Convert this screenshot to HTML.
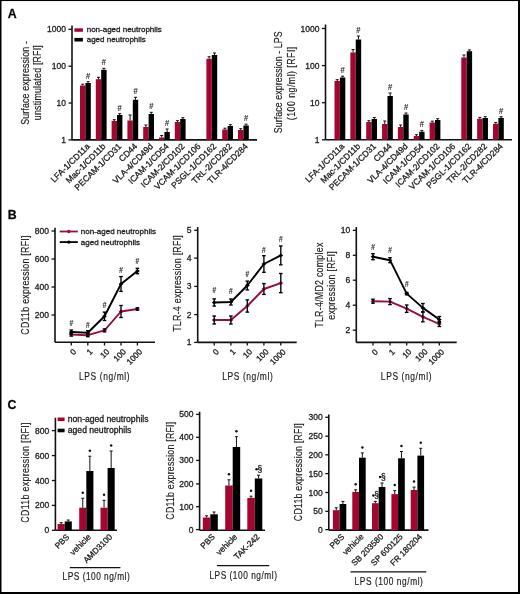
<!DOCTYPE html>
<html><head><meta charset="utf-8"><style>
html,body{margin:0;padding:0;background:#fff;}
body{width:520px;height:594px;overflow:hidden;}
svg{display:block;font-family:"Liberation Sans", sans-serif;will-change:transform;filter:blur(0.25px);}
text{stroke:#1c1c1c;stroke-width:0.3px;}
</style></head><body>
<svg width="520" height="594" viewBox="0 0 520 594">
<rect x="0" y="0" width="520" height="594" fill="#fff"/>
<rect x="0.00" y="0.00" width="520.00" height="1.05" fill="#000"/>
<rect x="0.00" y="0.00" width="1.50" height="594.00" fill="#000"/>
<rect x="518.00" y="0.00" width="2.00" height="594.00" fill="#000"/>
<rect x="0.00" y="592.00" width="520.00" height="2.00" fill="#000"/>
<text x="7.70" y="17.80" font-size="12.3" text-anchor="start" font-weight="bold" fill="#000">A</text>
<text x="7.70" y="219.30" font-size="12.3" text-anchor="start" font-weight="bold" fill="#000">B</text>
<text x="7.40" y="408.90" font-size="12.3" text-anchor="start" font-weight="bold" fill="#000">C</text>
<line x1="72.00" y1="25.40" x2="72.00" y2="139.90" stroke="#111" stroke-width="1.6"/>
<line x1="68.50" y1="139.90" x2="72.00" y2="139.90" stroke="#111" stroke-width="1.3"/>
<text x="65.90" y="142.96" font-size="8.5" text-anchor="end" font-weight="normal" fill="#1c1c1c">1</text>
<line x1="68.50" y1="103.04" x2="72.00" y2="103.04" stroke="#111" stroke-width="1.3"/>
<text x="65.90" y="106.10" font-size="8.5" text-anchor="end" font-weight="normal" fill="#1c1c1c">10</text>
<line x1="68.50" y1="66.18" x2="72.00" y2="66.18" stroke="#111" stroke-width="1.3"/>
<text x="65.90" y="69.24" font-size="8.5" text-anchor="end" font-weight="normal" fill="#1c1c1c">100</text>
<line x1="68.50" y1="29.32" x2="72.00" y2="29.32" stroke="#111" stroke-width="1.3"/>
<text x="65.90" y="32.38" font-size="8.5" text-anchor="end" font-weight="normal" fill="#1c1c1c">1000</text>
<line x1="72.00" y1="139.90" x2="257.00" y2="139.90" stroke="#111" stroke-width="1.6"/>
<rect x="80.00" y="85.50" width="5.40" height="54.40" fill="#a3072f"/>
<line x1="82.70" y1="84.20" x2="82.70" y2="85.50" stroke="#111" stroke-width="1.0"/>
<line x1="81.20" y1="84.20" x2="84.20" y2="84.20" stroke="#111" stroke-width="1.0"/>
<rect x="85.40" y="83.00" width="5.40" height="56.90" fill="#000"/>
<line x1="88.10" y1="81.70" x2="88.10" y2="83.00" stroke="#111" stroke-width="1.0"/>
<line x1="86.60" y1="81.70" x2="89.60" y2="81.70" stroke="#111" stroke-width="1.0"/>
<text x="0" y="0" font-size="9.4" text-anchor="middle" fill="#2a2a2a" style="stroke-width:0.2px;stroke:#2a2a2a" transform="translate(88.10 78.50) scale(0.8 1)">#</text>
<rect x="95.80" y="79.20" width="5.40" height="60.70" fill="#a3072f"/>
<line x1="98.50" y1="77.30" x2="98.50" y2="79.20" stroke="#111" stroke-width="1.0"/>
<line x1="97.00" y1="77.30" x2="100.00" y2="77.30" stroke="#111" stroke-width="1.0"/>
<rect x="101.20" y="69.80" width="5.40" height="70.10" fill="#000"/>
<line x1="103.90" y1="68.30" x2="103.90" y2="69.80" stroke="#111" stroke-width="1.0"/>
<line x1="102.40" y1="68.30" x2="105.40" y2="68.30" stroke="#111" stroke-width="1.0"/>
<text x="0" y="0" font-size="9.4" text-anchor="middle" fill="#2a2a2a" style="stroke-width:0.2px;stroke:#2a2a2a" transform="translate(103.90 65.10) scale(0.8 1)">#</text>
<rect x="111.60" y="121.00" width="5.40" height="18.90" fill="#a3072f"/>
<line x1="114.30" y1="119.70" x2="114.30" y2="121.00" stroke="#111" stroke-width="1.0"/>
<line x1="112.80" y1="119.70" x2="115.80" y2="119.70" stroke="#111" stroke-width="1.0"/>
<rect x="117.00" y="115.00" width="5.40" height="24.90" fill="#000"/>
<line x1="119.70" y1="113.70" x2="119.70" y2="115.00" stroke="#111" stroke-width="1.0"/>
<line x1="118.20" y1="113.70" x2="121.20" y2="113.70" stroke="#111" stroke-width="1.0"/>
<text x="0" y="0" font-size="9.4" text-anchor="middle" fill="#2a2a2a" style="stroke-width:0.2px;stroke:#2a2a2a" transform="translate(119.70 110.50) scale(0.8 1)">#</text>
<rect x="127.40" y="120.50" width="5.40" height="19.40" fill="#a3072f"/>
<line x1="130.10" y1="115.00" x2="130.10" y2="120.50" stroke="#111" stroke-width="1.0"/>
<line x1="128.60" y1="115.00" x2="131.60" y2="115.00" stroke="#111" stroke-width="1.0"/>
<rect x="132.80" y="99.80" width="5.40" height="40.10" fill="#000"/>
<line x1="135.50" y1="97.30" x2="135.50" y2="99.80" stroke="#111" stroke-width="1.0"/>
<line x1="134.00" y1="97.30" x2="137.00" y2="97.30" stroke="#111" stroke-width="1.0"/>
<text x="0" y="0" font-size="9.4" text-anchor="middle" fill="#2a2a2a" style="stroke-width:0.2px;stroke:#2a2a2a" transform="translate(135.50 94.10) scale(0.8 1)">#</text>
<rect x="143.20" y="127.00" width="5.40" height="12.90" fill="#a3072f"/>
<line x1="145.90" y1="125.00" x2="145.90" y2="127.00" stroke="#111" stroke-width="1.0"/>
<line x1="144.40" y1="125.00" x2="147.40" y2="125.00" stroke="#111" stroke-width="1.0"/>
<rect x="148.60" y="114.00" width="5.40" height="25.90" fill="#000"/>
<line x1="151.30" y1="112.30" x2="151.30" y2="114.00" stroke="#111" stroke-width="1.0"/>
<line x1="149.80" y1="112.30" x2="152.80" y2="112.30" stroke="#111" stroke-width="1.0"/>
<text x="0" y="0" font-size="9.4" text-anchor="middle" fill="#2a2a2a" style="stroke-width:0.2px;stroke:#2a2a2a" transform="translate(151.30 109.10) scale(0.8 1)">#</text>
<rect x="159.00" y="137.50" width="5.40" height="2.40" fill="#a3072f"/>
<line x1="161.70" y1="135.50" x2="161.70" y2="137.50" stroke="#111" stroke-width="1.0"/>
<line x1="160.20" y1="135.50" x2="163.20" y2="135.50" stroke="#111" stroke-width="1.0"/>
<rect x="164.40" y="132.00" width="5.40" height="7.90" fill="#000"/>
<line x1="167.10" y1="129.00" x2="167.10" y2="132.00" stroke="#111" stroke-width="1.0"/>
<line x1="165.60" y1="129.00" x2="168.60" y2="129.00" stroke="#111" stroke-width="1.0"/>
<text x="0" y="0" font-size="9.4" text-anchor="middle" fill="#2a2a2a" style="stroke-width:0.2px;stroke:#2a2a2a" transform="translate(167.10 125.80) scale(0.8 1)">#</text>
<rect x="174.80" y="122.00" width="5.40" height="17.90" fill="#a3072f"/>
<line x1="177.50" y1="120.70" x2="177.50" y2="122.00" stroke="#111" stroke-width="1.0"/>
<line x1="176.00" y1="120.70" x2="179.00" y2="120.70" stroke="#111" stroke-width="1.0"/>
<rect x="180.20" y="119.00" width="5.40" height="20.90" fill="#000"/>
<line x1="182.90" y1="117.70" x2="182.90" y2="119.00" stroke="#111" stroke-width="1.0"/>
<line x1="181.40" y1="117.70" x2="184.40" y2="117.70" stroke="#111" stroke-width="1.0"/>
<rect x="206.40" y="58.75" width="5.40" height="81.15" fill="#a3072f"/>
<line x1="209.10" y1="56.75" x2="209.10" y2="58.75" stroke="#111" stroke-width="1.0"/>
<line x1="207.60" y1="56.75" x2="210.60" y2="56.75" stroke="#111" stroke-width="1.0"/>
<rect x="211.80" y="55.00" width="5.40" height="84.90" fill="#000"/>
<line x1="214.50" y1="53.00" x2="214.50" y2="55.00" stroke="#111" stroke-width="1.0"/>
<line x1="213.00" y1="53.00" x2="216.00" y2="53.00" stroke="#111" stroke-width="1.0"/>
<rect x="222.20" y="129.50" width="5.40" height="10.40" fill="#a3072f"/>
<line x1="224.90" y1="128.20" x2="224.90" y2="129.50" stroke="#111" stroke-width="1.0"/>
<line x1="223.40" y1="128.20" x2="226.40" y2="128.20" stroke="#111" stroke-width="1.0"/>
<rect x="227.60" y="126.00" width="5.40" height="13.90" fill="#000"/>
<line x1="230.30" y1="124.70" x2="230.30" y2="126.00" stroke="#111" stroke-width="1.0"/>
<line x1="228.80" y1="124.70" x2="231.80" y2="124.70" stroke="#111" stroke-width="1.0"/>
<rect x="238.00" y="130.00" width="5.40" height="9.90" fill="#a3072f"/>
<line x1="240.70" y1="128.70" x2="240.70" y2="130.00" stroke="#111" stroke-width="1.0"/>
<line x1="239.20" y1="128.70" x2="242.20" y2="128.70" stroke="#111" stroke-width="1.0"/>
<rect x="243.40" y="125.50" width="5.40" height="14.40" fill="#000"/>
<line x1="246.10" y1="124.20" x2="246.10" y2="125.50" stroke="#111" stroke-width="1.0"/>
<line x1="244.60" y1="124.20" x2="247.60" y2="124.20" stroke="#111" stroke-width="1.0"/>
<text x="0" y="0" font-size="9.4" text-anchor="middle" fill="#2a2a2a" style="stroke-width:0.2px;stroke:#2a2a2a" transform="translate(246.10 121.00) scale(0.8 1)">#</text>
<text x="90.40" y="146.90" font-size="8.55" text-anchor="end" font-weight="normal" fill="#1c1c1c" transform="rotate(-45 90.40 146.90)">LFA-1/CD11a</text>
<text x="106.20" y="146.90" font-size="8.55" text-anchor="end" font-weight="normal" fill="#1c1c1c" transform="rotate(-45 106.20 146.90)">Mac-1/CD11b</text>
<text x="122.00" y="146.90" font-size="8.55" text-anchor="end" font-weight="normal" fill="#1c1c1c" transform="rotate(-45 122.00 146.90)">PECAM-1/CD31</text>
<text x="137.80" y="146.90" font-size="8.55" text-anchor="end" font-weight="normal" fill="#1c1c1c" transform="rotate(-45 137.80 146.90)">CD44</text>
<text x="153.60" y="146.90" font-size="8.55" text-anchor="end" font-weight="normal" fill="#1c1c1c" transform="rotate(-45 153.60 146.90)">VLA-4/CD49d</text>
<text x="169.40" y="146.90" font-size="8.55" text-anchor="end" font-weight="normal" fill="#1c1c1c" transform="rotate(-45 169.40 146.90)">ICAM-1/CD54</text>
<text x="185.20" y="146.90" font-size="8.55" text-anchor="end" font-weight="normal" fill="#1c1c1c" transform="rotate(-45 185.20 146.90)">ICAM-2/CD102</text>
<text x="201.00" y="146.90" font-size="8.55" text-anchor="end" font-weight="normal" fill="#1c1c1c" transform="rotate(-45 201.00 146.90)">VCAM-1/CD106</text>
<text x="216.80" y="146.90" font-size="8.55" text-anchor="end" font-weight="normal" fill="#1c1c1c" transform="rotate(-45 216.80 146.90)">PSGL-1/CD162</text>
<text x="232.60" y="146.90" font-size="8.55" text-anchor="end" font-weight="normal" fill="#1c1c1c" transform="rotate(-45 232.60 146.90)">TRL-2/CD282</text>
<text x="248.40" y="146.90" font-size="8.55" text-anchor="end" font-weight="normal" fill="#1c1c1c" transform="rotate(-45 248.40 146.90)">TLR-4/CD284</text>
<line x1="325.50" y1="24.50" x2="325.50" y2="139.80" stroke="#111" stroke-width="1.6"/>
<line x1="322.00" y1="139.80" x2="325.50" y2="139.80" stroke="#111" stroke-width="1.3"/>
<text x="319.40" y="142.86" font-size="8.5" text-anchor="end" font-weight="normal" fill="#1c1c1c">1</text>
<line x1="322.00" y1="102.70" x2="325.50" y2="102.70" stroke="#111" stroke-width="1.3"/>
<text x="319.40" y="105.76" font-size="8.5" text-anchor="end" font-weight="normal" fill="#1c1c1c">10</text>
<line x1="322.00" y1="65.60" x2="325.50" y2="65.60" stroke="#111" stroke-width="1.3"/>
<text x="319.40" y="68.66" font-size="8.5" text-anchor="end" font-weight="normal" fill="#1c1c1c">100</text>
<line x1="322.00" y1="28.50" x2="325.50" y2="28.50" stroke="#111" stroke-width="1.3"/>
<text x="319.40" y="31.56" font-size="8.5" text-anchor="end" font-weight="normal" fill="#1c1c1c">1000</text>
<line x1="325.50" y1="139.80" x2="512.00" y2="139.80" stroke="#111" stroke-width="1.6"/>
<rect x="334.50" y="81.00" width="5.40" height="58.80" fill="#a3072f"/>
<line x1="337.20" y1="79.70" x2="337.20" y2="81.00" stroke="#111" stroke-width="1.0"/>
<line x1="335.70" y1="79.70" x2="338.70" y2="79.70" stroke="#111" stroke-width="1.0"/>
<rect x="339.90" y="77.50" width="5.40" height="62.30" fill="#000"/>
<line x1="342.60" y1="76.20" x2="342.60" y2="77.50" stroke="#111" stroke-width="1.0"/>
<line x1="341.10" y1="76.20" x2="344.10" y2="76.20" stroke="#111" stroke-width="1.0"/>
<text x="0" y="0" font-size="9.4" text-anchor="middle" fill="#2a2a2a" style="stroke-width:0.2px;stroke:#2a2a2a" transform="translate(342.60 73.00) scale(0.8 1)">#</text>
<rect x="350.35" y="52.50" width="5.40" height="87.30" fill="#a3072f"/>
<line x1="353.05" y1="49.50" x2="353.05" y2="52.50" stroke="#111" stroke-width="1.0"/>
<line x1="351.55" y1="49.50" x2="354.55" y2="49.50" stroke="#111" stroke-width="1.0"/>
<rect x="355.75" y="39.50" width="5.40" height="100.30" fill="#000"/>
<line x1="358.45" y1="36.00" x2="358.45" y2="39.50" stroke="#111" stroke-width="1.0"/>
<line x1="356.95" y1="36.00" x2="359.95" y2="36.00" stroke="#111" stroke-width="1.0"/>
<text x="0" y="0" font-size="9.4" text-anchor="middle" fill="#2a2a2a" style="stroke-width:0.2px;stroke:#2a2a2a" transform="translate(358.45 32.80) scale(0.8 1)">#</text>
<rect x="366.20" y="122.00" width="5.40" height="17.80" fill="#a3072f"/>
<line x1="368.90" y1="120.70" x2="368.90" y2="122.00" stroke="#111" stroke-width="1.0"/>
<line x1="367.40" y1="120.70" x2="370.40" y2="120.70" stroke="#111" stroke-width="1.0"/>
<rect x="371.60" y="119.00" width="5.40" height="20.80" fill="#000"/>
<line x1="374.30" y1="117.50" x2="374.30" y2="119.00" stroke="#111" stroke-width="1.0"/>
<line x1="372.80" y1="117.50" x2="375.80" y2="117.50" stroke="#111" stroke-width="1.0"/>
<rect x="382.05" y="124.00" width="5.40" height="15.80" fill="#a3072f"/>
<line x1="384.75" y1="121.00" x2="384.75" y2="124.00" stroke="#111" stroke-width="1.0"/>
<line x1="383.25" y1="121.00" x2="386.25" y2="121.00" stroke="#111" stroke-width="1.0"/>
<rect x="387.45" y="96.00" width="5.40" height="43.80" fill="#000"/>
<line x1="390.15" y1="93.00" x2="390.15" y2="96.00" stroke="#111" stroke-width="1.0"/>
<line x1="388.65" y1="93.00" x2="391.65" y2="93.00" stroke="#111" stroke-width="1.0"/>
<text x="0" y="0" font-size="9.4" text-anchor="middle" fill="#2a2a2a" style="stroke-width:0.2px;stroke:#2a2a2a" transform="translate(390.15 89.80) scale(0.8 1)">#</text>
<rect x="397.90" y="127.00" width="5.40" height="12.80" fill="#a3072f"/>
<line x1="400.60" y1="125.00" x2="400.60" y2="127.00" stroke="#111" stroke-width="1.0"/>
<line x1="399.10" y1="125.00" x2="402.10" y2="125.00" stroke="#111" stroke-width="1.0"/>
<rect x="403.30" y="114.50" width="5.40" height="25.30" fill="#000"/>
<line x1="406.00" y1="113.00" x2="406.00" y2="114.50" stroke="#111" stroke-width="1.0"/>
<line x1="404.50" y1="113.00" x2="407.50" y2="113.00" stroke="#111" stroke-width="1.0"/>
<text x="0" y="0" font-size="9.4" text-anchor="middle" fill="#2a2a2a" style="stroke-width:0.2px;stroke:#2a2a2a" transform="translate(406.00 109.80) scale(0.8 1)">#</text>
<rect x="413.75" y="136.00" width="5.40" height="3.80" fill="#a3072f"/>
<line x1="416.45" y1="134.70" x2="416.45" y2="136.00" stroke="#111" stroke-width="1.0"/>
<line x1="414.95" y1="134.70" x2="417.95" y2="134.70" stroke="#111" stroke-width="1.0"/>
<rect x="419.15" y="131.75" width="5.40" height="8.05" fill="#000"/>
<line x1="421.85" y1="130.45" x2="421.85" y2="131.75" stroke="#111" stroke-width="1.0"/>
<line x1="420.35" y1="130.45" x2="423.35" y2="130.45" stroke="#111" stroke-width="1.0"/>
<text x="0" y="0" font-size="9.4" text-anchor="middle" fill="#2a2a2a" style="stroke-width:0.2px;stroke:#2a2a2a" transform="translate(421.85 127.25) scale(0.8 1)">#</text>
<rect x="429.60" y="122.50" width="5.40" height="17.30" fill="#a3072f"/>
<line x1="432.30" y1="121.20" x2="432.30" y2="122.50" stroke="#111" stroke-width="1.0"/>
<line x1="430.80" y1="121.20" x2="433.80" y2="121.20" stroke="#111" stroke-width="1.0"/>
<rect x="435.00" y="120.00" width="5.40" height="19.80" fill="#000"/>
<line x1="437.70" y1="118.70" x2="437.70" y2="120.00" stroke="#111" stroke-width="1.0"/>
<line x1="436.20" y1="118.70" x2="439.20" y2="118.70" stroke="#111" stroke-width="1.0"/>
<rect x="461.30" y="57.50" width="5.40" height="82.30" fill="#a3072f"/>
<line x1="464.00" y1="55.00" x2="464.00" y2="57.50" stroke="#111" stroke-width="1.0"/>
<line x1="462.50" y1="55.00" x2="465.50" y2="55.00" stroke="#111" stroke-width="1.0"/>
<rect x="466.70" y="51.25" width="5.40" height="88.55" fill="#000"/>
<line x1="469.40" y1="49.95" x2="469.40" y2="51.25" stroke="#111" stroke-width="1.0"/>
<line x1="467.90" y1="49.95" x2="470.90" y2="49.95" stroke="#111" stroke-width="1.0"/>
<rect x="477.15" y="118.75" width="5.40" height="21.05" fill="#a3072f"/>
<line x1="479.85" y1="117.45" x2="479.85" y2="118.75" stroke="#111" stroke-width="1.0"/>
<line x1="478.35" y1="117.45" x2="481.35" y2="117.45" stroke="#111" stroke-width="1.0"/>
<rect x="482.55" y="118.00" width="5.40" height="21.80" fill="#000"/>
<line x1="485.25" y1="116.70" x2="485.25" y2="118.00" stroke="#111" stroke-width="1.0"/>
<line x1="483.75" y1="116.70" x2="486.75" y2="116.70" stroke="#111" stroke-width="1.0"/>
<rect x="493.00" y="123.75" width="5.40" height="16.05" fill="#a3072f"/>
<line x1="495.70" y1="122.45" x2="495.70" y2="123.75" stroke="#111" stroke-width="1.0"/>
<line x1="494.20" y1="122.45" x2="497.20" y2="122.45" stroke="#111" stroke-width="1.0"/>
<rect x="498.40" y="118.00" width="5.40" height="21.80" fill="#000"/>
<line x1="501.10" y1="116.70" x2="501.10" y2="118.00" stroke="#111" stroke-width="1.0"/>
<line x1="499.60" y1="116.70" x2="502.60" y2="116.70" stroke="#111" stroke-width="1.0"/>
<text x="0" y="0" font-size="9.4" text-anchor="middle" fill="#2a2a2a" style="stroke-width:0.2px;stroke:#2a2a2a" transform="translate(501.10 113.50) scale(0.8 1)">#</text>
<text x="344.90" y="146.80" font-size="8.55" text-anchor="end" font-weight="normal" fill="#1c1c1c" transform="rotate(-45 344.90 146.80)">LFA-1/CD11a</text>
<text x="360.75" y="146.80" font-size="8.55" text-anchor="end" font-weight="normal" fill="#1c1c1c" transform="rotate(-45 360.75 146.80)">Mac-1/CD11b</text>
<text x="376.60" y="146.80" font-size="8.55" text-anchor="end" font-weight="normal" fill="#1c1c1c" transform="rotate(-45 376.60 146.80)">PECAM-1/CD31</text>
<text x="392.45" y="146.80" font-size="8.55" text-anchor="end" font-weight="normal" fill="#1c1c1c" transform="rotate(-45 392.45 146.80)">CD44</text>
<text x="408.30" y="146.80" font-size="8.55" text-anchor="end" font-weight="normal" fill="#1c1c1c" transform="rotate(-45 408.30 146.80)">VLA-4/CD49d</text>
<text x="424.15" y="146.80" font-size="8.55" text-anchor="end" font-weight="normal" fill="#1c1c1c" transform="rotate(-45 424.15 146.80)">ICAM-1/CD54</text>
<text x="440.00" y="146.80" font-size="8.55" text-anchor="end" font-weight="normal" fill="#1c1c1c" transform="rotate(-45 440.00 146.80)">ICAM-2/CD102</text>
<text x="455.85" y="146.80" font-size="8.55" text-anchor="end" font-weight="normal" fill="#1c1c1c" transform="rotate(-45 455.85 146.80)">VCAM-1/CD106</text>
<text x="471.70" y="146.80" font-size="8.55" text-anchor="end" font-weight="normal" fill="#1c1c1c" transform="rotate(-45 471.70 146.80)">PSGL-1/CD162</text>
<text x="487.55" y="146.80" font-size="8.55" text-anchor="end" font-weight="normal" fill="#1c1c1c" transform="rotate(-45 487.55 146.80)">TRL-2/CD282</text>
<text x="503.40" y="146.80" font-size="8.55" text-anchor="end" font-weight="normal" fill="#1c1c1c" transform="rotate(-45 503.40 146.80)">TLR-4/CD284</text>
<rect x="74.40" y="28.30" width="8.50" height="3.50" fill="#a3072f"/>
<rect x="74.40" y="37.90" width="8.50" height="3.60" fill="#000"/>
<text x="86.70" y="32.10" font-size="8" text-anchor="start" font-weight="normal" fill="#1c1c1c">non-aged neutrophils</text>
<text x="86.70" y="41.70" font-size="8" text-anchor="start" font-weight="normal" fill="#1c1c1c">aged neutrophils</text>
<line x1="55.00" y1="227.80" x2="55.00" y2="342.30" stroke="#111" stroke-width="1.6"/>
<line x1="51.50" y1="231.00" x2="55.00" y2="231.00" stroke="#111" stroke-width="1.3"/>
<text x="48.90" y="234.06" font-size="8.5" text-anchor="end" font-weight="normal" fill="#1c1c1c">800</text>
<line x1="51.50" y1="259.00" x2="55.00" y2="259.00" stroke="#111" stroke-width="1.3"/>
<text x="48.90" y="262.06" font-size="8.5" text-anchor="end" font-weight="normal" fill="#1c1c1c">600</text>
<line x1="51.50" y1="287.00" x2="55.00" y2="287.00" stroke="#111" stroke-width="1.3"/>
<text x="48.90" y="290.06" font-size="8.5" text-anchor="end" font-weight="normal" fill="#1c1c1c">400</text>
<line x1="51.50" y1="315.00" x2="55.00" y2="315.00" stroke="#111" stroke-width="1.3"/>
<text x="48.90" y="318.06" font-size="8.5" text-anchor="end" font-weight="normal" fill="#1c1c1c">200</text>
<line x1="55.00" y1="342.30" x2="155.00" y2="342.30" stroke="#111" stroke-width="1.6"/>
<line x1="71.30" y1="342.30" x2="71.30" y2="345.50" stroke="#111" stroke-width="1.3"/>
<text x="76.70" y="352.30" font-size="8.2" text-anchor="end" font-weight="normal" fill="#1c1c1c" transform="rotate(-45 76.70 352.30)">0</text>
<line x1="87.80" y1="342.30" x2="87.80" y2="345.50" stroke="#111" stroke-width="1.3"/>
<text x="93.20" y="352.30" font-size="8.2" text-anchor="end" font-weight="normal" fill="#1c1c1c" transform="rotate(-45 93.20 352.30)">1</text>
<line x1="104.50" y1="342.30" x2="104.50" y2="345.50" stroke="#111" stroke-width="1.3"/>
<text x="109.90" y="352.30" font-size="8.2" text-anchor="end" font-weight="normal" fill="#1c1c1c" transform="rotate(-45 109.90 352.30)">10</text>
<line x1="121.00" y1="342.30" x2="121.00" y2="345.50" stroke="#111" stroke-width="1.3"/>
<text x="126.40" y="352.30" font-size="8.2" text-anchor="end" font-weight="normal" fill="#1c1c1c" transform="rotate(-45 126.40 352.30)">100</text>
<line x1="137.40" y1="342.30" x2="137.40" y2="345.50" stroke="#111" stroke-width="1.3"/>
<text x="142.80" y="352.30" font-size="8.2" text-anchor="end" font-weight="normal" fill="#1c1c1c" transform="rotate(-45 142.80 352.30)">1000</text>
<polyline points="71.30,334.60 87.80,335.20 104.50,330.40 121.00,311.50 137.40,309.00" fill="none" stroke="#980e3a" stroke-width="1.9" stroke-linejoin="round"/>
<polygon points="68.90,334.60 71.30,332.70 73.70,334.60 71.30,336.50" fill="#980e3a"/>
<line x1="71.30" y1="333.10" x2="71.30" y2="336.10" stroke="#000" stroke-width="1.35"/>
<line x1="69.50" y1="333.10" x2="73.10" y2="333.10" stroke="#000" stroke-width="1.35"/>
<line x1="69.50" y1="336.10" x2="73.10" y2="336.10" stroke="#000" stroke-width="1.35"/>
<polygon points="85.40,335.20 87.80,333.30 90.20,335.20 87.80,337.10" fill="#980e3a"/>
<line x1="87.80" y1="333.70" x2="87.80" y2="336.70" stroke="#000" stroke-width="1.35"/>
<line x1="86.00" y1="333.70" x2="89.60" y2="333.70" stroke="#000" stroke-width="1.35"/>
<line x1="86.00" y1="336.70" x2="89.60" y2="336.70" stroke="#000" stroke-width="1.35"/>
<polygon points="102.10,330.40 104.50,328.50 106.90,330.40 104.50,332.30" fill="#980e3a"/>
<line x1="104.50" y1="328.90" x2="104.50" y2="331.90" stroke="#000" stroke-width="1.35"/>
<line x1="102.70" y1="328.90" x2="106.30" y2="328.90" stroke="#000" stroke-width="1.35"/>
<line x1="102.70" y1="331.90" x2="106.30" y2="331.90" stroke="#000" stroke-width="1.35"/>
<polygon points="118.60,311.50 121.00,309.60 123.40,311.50 121.00,313.40" fill="#980e3a"/>
<line x1="121.00" y1="305.50" x2="121.00" y2="317.50" stroke="#000" stroke-width="1.35"/>
<line x1="119.20" y1="305.50" x2="122.80" y2="305.50" stroke="#000" stroke-width="1.35"/>
<line x1="119.20" y1="317.50" x2="122.80" y2="317.50" stroke="#000" stroke-width="1.35"/>
<polygon points="135.00,309.00 137.40,307.10 139.80,309.00 137.40,310.90" fill="#980e3a"/>
<line x1="137.40" y1="307.80" x2="137.40" y2="310.20" stroke="#000" stroke-width="1.35"/>
<line x1="135.60" y1="307.80" x2="139.20" y2="307.80" stroke="#000" stroke-width="1.35"/>
<line x1="135.60" y1="310.20" x2="139.20" y2="310.20" stroke="#000" stroke-width="1.35"/>
<polyline points="71.30,332.00 87.80,332.70 104.50,316.30 121.00,284.00 137.40,271.00" fill="none" stroke="#000" stroke-width="1.9" stroke-linejoin="round"/>
<polygon points="68.90,332.00 71.30,330.10 73.70,332.00 71.30,333.90" fill="#000"/>
<line x1="71.30" y1="330.00" x2="71.30" y2="334.00" stroke="#000" stroke-width="1.35"/>
<line x1="69.50" y1="330.00" x2="73.10" y2="330.00" stroke="#000" stroke-width="1.35"/>
<line x1="69.50" y1="334.00" x2="73.10" y2="334.00" stroke="#000" stroke-width="1.35"/>
<polygon points="85.40,332.70 87.80,330.80 90.20,332.70 87.80,334.60" fill="#000"/>
<line x1="87.80" y1="330.70" x2="87.80" y2="334.70" stroke="#000" stroke-width="1.35"/>
<line x1="86.00" y1="330.70" x2="89.60" y2="330.70" stroke="#000" stroke-width="1.35"/>
<line x1="86.00" y1="334.70" x2="89.60" y2="334.70" stroke="#000" stroke-width="1.35"/>
<polygon points="102.10,316.30 104.50,314.40 106.90,316.30 104.50,318.20" fill="#000"/>
<line x1="104.50" y1="312.10" x2="104.50" y2="320.50" stroke="#000" stroke-width="1.35"/>
<line x1="102.70" y1="312.10" x2="106.30" y2="312.10" stroke="#000" stroke-width="1.35"/>
<line x1="102.70" y1="320.50" x2="106.30" y2="320.50" stroke="#000" stroke-width="1.35"/>
<polygon points="118.60,284.00 121.00,282.10 123.40,284.00 121.00,285.90" fill="#000"/>
<line x1="121.00" y1="276.60" x2="121.00" y2="291.40" stroke="#000" stroke-width="1.35"/>
<line x1="119.20" y1="276.60" x2="122.80" y2="276.60" stroke="#000" stroke-width="1.35"/>
<line x1="119.20" y1="291.40" x2="122.80" y2="291.40" stroke="#000" stroke-width="1.35"/>
<polygon points="135.00,271.00 137.40,269.10 139.80,271.00 137.40,272.90" fill="#000"/>
<line x1="137.40" y1="268.30" x2="137.40" y2="273.70" stroke="#000" stroke-width="1.35"/>
<line x1="135.60" y1="268.30" x2="139.20" y2="268.30" stroke="#000" stroke-width="1.35"/>
<line x1="135.60" y1="273.70" x2="139.20" y2="273.70" stroke="#000" stroke-width="1.35"/>
<text x="0" y="0" font-size="8.2" text-anchor="middle" fill="#2a2a2a" style="stroke-width:0.2px;stroke:#2a2a2a" transform="translate(71.30 326.30) scale(0.8 1)">#</text>
<text x="0" y="0" font-size="8.2" text-anchor="middle" fill="#2a2a2a" style="stroke-width:0.2px;stroke:#2a2a2a" transform="translate(87.80 327.90) scale(0.8 1)">#</text>
<text x="0" y="0" font-size="8.2" text-anchor="middle" fill="#2a2a2a" style="stroke-width:0.2px;stroke:#2a2a2a" transform="translate(104.50 307.70) scale(0.8 1)">#</text>
<text x="0" y="0" font-size="8.2" text-anchor="middle" fill="#2a2a2a" style="stroke-width:0.2px;stroke:#2a2a2a" transform="translate(121.00 272.50) scale(0.8 1)">#</text>
<text x="0" y="0" font-size="8.2" text-anchor="middle" fill="#2a2a2a" style="stroke-width:0.2px;stroke:#2a2a2a" transform="translate(137.40 263.90) scale(0.8 1)">#</text>
<text x="0" y="0" font-size="10.8" text-anchor="middle" fill="#1c1c1c" style="stroke-width:0.18px" transform="translate(104.35 379.50) scale(0.78 1)" textLength="64.87" lengthAdjust="spacing">LPS (ng/ml)</text>
<line x1="59.70" y1="231.50" x2="77.80" y2="231.50" stroke="#980e3a" stroke-width="1.8"/>
<circle cx="68.8" cy="231.5" r="1.7" fill="#980e3a"/>
<line x1="59.70" y1="242.10" x2="77.80" y2="242.10" stroke="#000" stroke-width="1.8"/>
<circle cx="68.8" cy="242.1" r="1.7" fill="#000"/>
<text x="80.80" y="234.40" font-size="8" text-anchor="start" font-weight="normal" fill="#1c1c1c">non-aged neutrophils</text>
<text x="80.80" y="245.00" font-size="8" text-anchor="start" font-weight="normal" fill="#1c1c1c">aged neutrophils</text>
<line x1="197.70" y1="227.10" x2="197.70" y2="342.40" stroke="#111" stroke-width="1.6"/>
<line x1="194.20" y1="230.30" x2="197.70" y2="230.30" stroke="#111" stroke-width="1.3"/>
<text x="191.60" y="233.36" font-size="8.5" text-anchor="end" font-weight="normal" fill="#1c1c1c">5</text>
<line x1="194.20" y1="258.10" x2="197.70" y2="258.10" stroke="#111" stroke-width="1.3"/>
<text x="191.60" y="261.16" font-size="8.5" text-anchor="end" font-weight="normal" fill="#1c1c1c">4</text>
<line x1="194.20" y1="286.40" x2="197.70" y2="286.40" stroke="#111" stroke-width="1.3"/>
<text x="191.60" y="289.46" font-size="8.5" text-anchor="end" font-weight="normal" fill="#1c1c1c">3</text>
<line x1="194.20" y1="314.60" x2="197.70" y2="314.60" stroke="#111" stroke-width="1.3"/>
<text x="191.60" y="317.66" font-size="8.5" text-anchor="end" font-weight="normal" fill="#1c1c1c">2</text>
<line x1="194.20" y1="342.40" x2="197.70" y2="342.40" stroke="#111" stroke-width="1.3"/>
<text x="191.60" y="345.46" font-size="8.5" text-anchor="end" font-weight="normal" fill="#1c1c1c">1</text>
<line x1="197.70" y1="342.40" x2="296.70" y2="342.40" stroke="#111" stroke-width="1.6"/>
<line x1="214.20" y1="342.40" x2="214.20" y2="345.60" stroke="#111" stroke-width="1.3"/>
<text x="219.60" y="352.40" font-size="8.2" text-anchor="end" font-weight="normal" fill="#1c1c1c" transform="rotate(-45 219.60 352.40)">0</text>
<line x1="230.90" y1="342.40" x2="230.90" y2="345.60" stroke="#111" stroke-width="1.3"/>
<text x="236.30" y="352.40" font-size="8.2" text-anchor="end" font-weight="normal" fill="#1c1c1c" transform="rotate(-45 236.30 352.40)">1</text>
<line x1="247.30" y1="342.40" x2="247.30" y2="345.60" stroke="#111" stroke-width="1.3"/>
<text x="252.70" y="352.40" font-size="8.2" text-anchor="end" font-weight="normal" fill="#1c1c1c" transform="rotate(-45 252.70 352.40)">10</text>
<line x1="263.90" y1="342.40" x2="263.90" y2="345.60" stroke="#111" stroke-width="1.3"/>
<text x="269.30" y="352.40" font-size="8.2" text-anchor="end" font-weight="normal" fill="#1c1c1c" transform="rotate(-45 269.30 352.40)">100</text>
<line x1="280.80" y1="342.40" x2="280.80" y2="345.60" stroke="#111" stroke-width="1.3"/>
<text x="286.20" y="352.40" font-size="8.2" text-anchor="end" font-weight="normal" fill="#1c1c1c" transform="rotate(-45 286.20 352.40)">1000</text>
<polyline points="214.20,320.00 230.90,320.00 247.30,306.00 263.90,289.00 280.80,283.10" fill="none" stroke="#980e3a" stroke-width="1.9" stroke-linejoin="round"/>
<polygon points="211.80,320.00 214.20,318.10 216.60,320.00 214.20,321.90" fill="#980e3a"/>
<line x1="214.20" y1="316.00" x2="214.20" y2="324.00" stroke="#000" stroke-width="1.35"/>
<line x1="212.40" y1="316.00" x2="216.00" y2="316.00" stroke="#000" stroke-width="1.35"/>
<line x1="212.40" y1="324.00" x2="216.00" y2="324.00" stroke="#000" stroke-width="1.35"/>
<polygon points="228.50,320.00 230.90,318.10 233.30,320.00 230.90,321.90" fill="#980e3a"/>
<line x1="230.90" y1="316.00" x2="230.90" y2="324.00" stroke="#000" stroke-width="1.35"/>
<line x1="229.10" y1="316.00" x2="232.70" y2="316.00" stroke="#000" stroke-width="1.35"/>
<line x1="229.10" y1="324.00" x2="232.70" y2="324.00" stroke="#000" stroke-width="1.35"/>
<polygon points="244.90,306.00 247.30,304.10 249.70,306.00 247.30,307.90" fill="#980e3a"/>
<line x1="247.30" y1="299.90" x2="247.30" y2="312.10" stroke="#000" stroke-width="1.35"/>
<line x1="245.50" y1="299.90" x2="249.10" y2="299.90" stroke="#000" stroke-width="1.35"/>
<line x1="245.50" y1="312.10" x2="249.10" y2="312.10" stroke="#000" stroke-width="1.35"/>
<polygon points="261.50,289.00 263.90,287.10 266.30,289.00 263.90,290.90" fill="#980e3a"/>
<line x1="263.90" y1="283.60" x2="263.90" y2="294.40" stroke="#000" stroke-width="1.35"/>
<line x1="262.10" y1="283.60" x2="265.70" y2="283.60" stroke="#000" stroke-width="1.35"/>
<line x1="262.10" y1="294.40" x2="265.70" y2="294.40" stroke="#000" stroke-width="1.35"/>
<polygon points="278.40,283.10 280.80,281.20 283.20,283.10 280.80,285.00" fill="#980e3a"/>
<line x1="280.80" y1="273.50" x2="280.80" y2="292.70" stroke="#000" stroke-width="1.35"/>
<line x1="279.00" y1="273.50" x2="282.60" y2="273.50" stroke="#000" stroke-width="1.35"/>
<line x1="279.00" y1="292.70" x2="282.60" y2="292.70" stroke="#000" stroke-width="1.35"/>
<polyline points="214.20,302.50 230.90,302.00 247.30,285.50 263.90,264.00 280.80,255.40" fill="none" stroke="#000" stroke-width="1.9" stroke-linejoin="round"/>
<polygon points="211.80,302.50 214.20,300.60 216.60,302.50 214.20,304.40" fill="#000"/>
<line x1="214.20" y1="298.90" x2="214.20" y2="306.10" stroke="#000" stroke-width="1.35"/>
<line x1="212.40" y1="298.90" x2="216.00" y2="298.90" stroke="#000" stroke-width="1.35"/>
<line x1="212.40" y1="306.10" x2="216.00" y2="306.10" stroke="#000" stroke-width="1.35"/>
<polygon points="228.50,302.00 230.90,300.10 233.30,302.00 230.90,303.90" fill="#000"/>
<line x1="230.90" y1="299.00" x2="230.90" y2="305.00" stroke="#000" stroke-width="1.35"/>
<line x1="229.10" y1="299.00" x2="232.70" y2="299.00" stroke="#000" stroke-width="1.35"/>
<line x1="229.10" y1="305.00" x2="232.70" y2="305.00" stroke="#000" stroke-width="1.35"/>
<polygon points="244.90,285.50 247.30,283.60 249.70,285.50 247.30,287.40" fill="#000"/>
<line x1="247.30" y1="281.10" x2="247.30" y2="289.90" stroke="#000" stroke-width="1.35"/>
<line x1="245.50" y1="281.10" x2="249.10" y2="281.10" stroke="#000" stroke-width="1.35"/>
<line x1="245.50" y1="289.90" x2="249.10" y2="289.90" stroke="#000" stroke-width="1.35"/>
<polygon points="261.50,264.00 263.90,262.10 266.30,264.00 263.90,265.90" fill="#000"/>
<line x1="263.90" y1="255.70" x2="263.90" y2="272.30" stroke="#000" stroke-width="1.35"/>
<line x1="262.10" y1="255.70" x2="265.70" y2="255.70" stroke="#000" stroke-width="1.35"/>
<line x1="262.10" y1="272.30" x2="265.70" y2="272.30" stroke="#000" stroke-width="1.35"/>
<polygon points="278.40,255.40 280.80,253.50 283.20,255.40 280.80,257.30" fill="#000"/>
<line x1="280.80" y1="246.00" x2="280.80" y2="264.80" stroke="#000" stroke-width="1.35"/>
<line x1="279.00" y1="246.00" x2="282.60" y2="246.00" stroke="#000" stroke-width="1.35"/>
<line x1="279.00" y1="264.80" x2="282.60" y2="264.80" stroke="#000" stroke-width="1.35"/>
<text x="0" y="0" font-size="8.2" text-anchor="middle" fill="#2a2a2a" style="stroke-width:0.2px;stroke:#2a2a2a" transform="translate(214.20 293.20) scale(0.8 1)">#</text>
<text x="0" y="0" font-size="8.2" text-anchor="middle" fill="#2a2a2a" style="stroke-width:0.2px;stroke:#2a2a2a" transform="translate(230.90 294.30) scale(0.8 1)">#</text>
<text x="0" y="0" font-size="8.2" text-anchor="middle" fill="#2a2a2a" style="stroke-width:0.2px;stroke:#2a2a2a" transform="translate(247.30 276.70) scale(0.8 1)">#</text>
<text x="0" y="0" font-size="8.2" text-anchor="middle" fill="#2a2a2a" style="stroke-width:0.2px;stroke:#2a2a2a" transform="translate(263.90 252.80) scale(0.8 1)">#</text>
<text x="0" y="0" font-size="8.2" text-anchor="middle" fill="#2a2a2a" style="stroke-width:0.2px;stroke:#2a2a2a" transform="translate(280.80 242.30) scale(0.8 1)">#</text>
<text x="0" y="0" font-size="10.8" text-anchor="middle" fill="#1c1c1c" style="stroke-width:0.18px" transform="translate(247.50 379.50) scale(0.78 1)" textLength="64.87" lengthAdjust="spacing">LPS (ng/ml)</text>
<line x1="356.30" y1="227.00" x2="356.30" y2="342.40" stroke="#111" stroke-width="1.6"/>
<line x1="352.80" y1="230.30" x2="356.30" y2="230.30" stroke="#111" stroke-width="1.3"/>
<text x="350.20" y="233.36" font-size="8.5" text-anchor="end" font-weight="normal" fill="#1c1c1c">10</text>
<line x1="352.80" y1="255.30" x2="356.30" y2="255.30" stroke="#111" stroke-width="1.3"/>
<text x="350.20" y="258.36" font-size="8.5" text-anchor="end" font-weight="normal" fill="#1c1c1c">8</text>
<line x1="352.80" y1="280.20" x2="356.30" y2="280.20" stroke="#111" stroke-width="1.3"/>
<text x="350.20" y="283.26" font-size="8.5" text-anchor="end" font-weight="normal" fill="#1c1c1c">6</text>
<line x1="352.80" y1="305.20" x2="356.30" y2="305.20" stroke="#111" stroke-width="1.3"/>
<text x="350.20" y="308.26" font-size="8.5" text-anchor="end" font-weight="normal" fill="#1c1c1c">4</text>
<line x1="352.80" y1="330.20" x2="356.30" y2="330.20" stroke="#111" stroke-width="1.3"/>
<text x="350.20" y="333.26" font-size="8.5" text-anchor="end" font-weight="normal" fill="#1c1c1c">2</text>
<line x1="356.30" y1="342.40" x2="456.70" y2="342.40" stroke="#111" stroke-width="1.6"/>
<line x1="373.00" y1="342.40" x2="373.00" y2="345.60" stroke="#111" stroke-width="1.3"/>
<text x="378.40" y="352.40" font-size="8.2" text-anchor="end" font-weight="normal" fill="#1c1c1c" transform="rotate(-45 378.40 352.40)">0</text>
<line x1="390.00" y1="342.40" x2="390.00" y2="345.60" stroke="#111" stroke-width="1.3"/>
<text x="395.40" y="352.40" font-size="8.2" text-anchor="end" font-weight="normal" fill="#1c1c1c" transform="rotate(-45 395.40 352.40)">1</text>
<line x1="406.70" y1="342.40" x2="406.70" y2="345.60" stroke="#111" stroke-width="1.3"/>
<text x="412.10" y="352.40" font-size="8.2" text-anchor="end" font-weight="normal" fill="#1c1c1c" transform="rotate(-45 412.10 352.40)">10</text>
<line x1="422.90" y1="342.40" x2="422.90" y2="345.60" stroke="#111" stroke-width="1.3"/>
<text x="428.30" y="352.40" font-size="8.2" text-anchor="end" font-weight="normal" fill="#1c1c1c" transform="rotate(-45 428.30 352.40)">100</text>
<line x1="439.30" y1="342.40" x2="439.30" y2="345.60" stroke="#111" stroke-width="1.3"/>
<text x="444.70" y="352.40" font-size="8.2" text-anchor="end" font-weight="normal" fill="#1c1c1c" transform="rotate(-45 444.70 352.40)">1000</text>
<polyline points="373.00,301.20 390.00,301.60 406.70,308.70 422.90,316.80 439.30,324.00" fill="none" stroke="#980e3a" stroke-width="1.9" stroke-linejoin="round"/>
<polygon points="370.60,301.20 373.00,299.30 375.40,301.20 373.00,303.10" fill="#980e3a"/>
<line x1="373.00" y1="299.20" x2="373.00" y2="303.20" stroke="#000" stroke-width="1.35"/>
<line x1="371.20" y1="299.20" x2="374.80" y2="299.20" stroke="#000" stroke-width="1.35"/>
<line x1="371.20" y1="303.20" x2="374.80" y2="303.20" stroke="#000" stroke-width="1.35"/>
<polygon points="387.60,301.60 390.00,299.70 392.40,301.60 390.00,303.50" fill="#980e3a"/>
<line x1="390.00" y1="298.60" x2="390.00" y2="304.60" stroke="#000" stroke-width="1.35"/>
<line x1="388.20" y1="298.60" x2="391.80" y2="298.60" stroke="#000" stroke-width="1.35"/>
<line x1="388.20" y1="304.60" x2="391.80" y2="304.60" stroke="#000" stroke-width="1.35"/>
<polygon points="404.30,308.70 406.70,306.80 409.10,308.70 406.70,310.60" fill="#980e3a"/>
<line x1="406.70" y1="305.00" x2="406.70" y2="312.40" stroke="#000" stroke-width="1.35"/>
<line x1="404.90" y1="305.00" x2="408.50" y2="305.00" stroke="#000" stroke-width="1.35"/>
<line x1="404.90" y1="312.40" x2="408.50" y2="312.40" stroke="#000" stroke-width="1.35"/>
<polygon points="420.50,316.80 422.90,314.90 425.30,316.80 422.90,318.70" fill="#980e3a"/>
<line x1="422.90" y1="311.80" x2="422.90" y2="321.80" stroke="#000" stroke-width="1.35"/>
<line x1="421.10" y1="311.80" x2="424.70" y2="311.80" stroke="#000" stroke-width="1.35"/>
<line x1="421.10" y1="321.80" x2="424.70" y2="321.80" stroke="#000" stroke-width="1.35"/>
<polygon points="436.90,324.00 439.30,322.10 441.70,324.00 439.30,325.90" fill="#980e3a"/>
<line x1="439.30" y1="321.50" x2="439.30" y2="326.50" stroke="#000" stroke-width="1.35"/>
<line x1="437.50" y1="321.50" x2="441.10" y2="321.50" stroke="#000" stroke-width="1.35"/>
<line x1="437.50" y1="326.50" x2="441.10" y2="326.50" stroke="#000" stroke-width="1.35"/>
<polyline points="373.00,256.70 390.00,260.20 406.70,293.60 422.90,307.90 439.30,319.50" fill="none" stroke="#000" stroke-width="1.9" stroke-linejoin="round"/>
<polygon points="370.60,256.70 373.00,254.80 375.40,256.70 373.00,258.60" fill="#000"/>
<line x1="373.00" y1="253.70" x2="373.00" y2="259.70" stroke="#000" stroke-width="1.35"/>
<line x1="371.20" y1="253.70" x2="374.80" y2="253.70" stroke="#000" stroke-width="1.35"/>
<line x1="371.20" y1="259.70" x2="374.80" y2="259.70" stroke="#000" stroke-width="1.35"/>
<polygon points="387.60,260.20 390.00,258.30 392.40,260.20 390.00,262.10" fill="#000"/>
<line x1="390.00" y1="257.70" x2="390.00" y2="262.70" stroke="#000" stroke-width="1.35"/>
<line x1="388.20" y1="257.70" x2="391.80" y2="257.70" stroke="#000" stroke-width="1.35"/>
<line x1="388.20" y1="262.70" x2="391.80" y2="262.70" stroke="#000" stroke-width="1.35"/>
<polygon points="404.30,293.60 406.70,291.70 409.10,293.60 406.70,295.50" fill="#000"/>
<line x1="406.70" y1="292.40" x2="406.70" y2="294.80" stroke="#000" stroke-width="1.35"/>
<line x1="404.90" y1="292.40" x2="408.50" y2="292.40" stroke="#000" stroke-width="1.35"/>
<line x1="404.90" y1="294.80" x2="408.50" y2="294.80" stroke="#000" stroke-width="1.35"/>
<polygon points="420.50,307.90 422.90,306.00 425.30,307.90 422.90,309.80" fill="#000"/>
<line x1="422.90" y1="303.50" x2="422.90" y2="312.30" stroke="#000" stroke-width="1.35"/>
<line x1="421.10" y1="303.50" x2="424.70" y2="303.50" stroke="#000" stroke-width="1.35"/>
<line x1="421.10" y1="312.30" x2="424.70" y2="312.30" stroke="#000" stroke-width="1.35"/>
<polygon points="436.90,319.50 439.30,317.60 441.70,319.50 439.30,321.40" fill="#000"/>
<line x1="439.30" y1="316.50" x2="439.30" y2="322.50" stroke="#000" stroke-width="1.35"/>
<line x1="437.50" y1="316.50" x2="441.10" y2="316.50" stroke="#000" stroke-width="1.35"/>
<line x1="437.50" y1="322.50" x2="441.10" y2="322.50" stroke="#000" stroke-width="1.35"/>
<text x="0" y="0" font-size="8.2" text-anchor="middle" fill="#2a2a2a" style="stroke-width:0.2px;stroke:#2a2a2a" transform="translate(373.00 250.10) scale(0.8 1)">#</text>
<text x="0" y="0" font-size="8.2" text-anchor="middle" fill="#2a2a2a" style="stroke-width:0.2px;stroke:#2a2a2a" transform="translate(390.00 252.80) scale(0.8 1)">#</text>
<text x="0" y="0" font-size="8.2" text-anchor="middle" fill="#2a2a2a" style="stroke-width:0.2px;stroke:#2a2a2a" transform="translate(406.70 287.00) scale(0.8 1)">#</text>
<text x="0" y="0" font-size="10.8" text-anchor="middle" fill="#1c1c1c" style="stroke-width:0.18px" transform="translate(406.15 379.50) scale(0.78 1)" textLength="64.87" lengthAdjust="spacing">LPS (ng/ml)</text>
<line x1="55.40" y1="417.70" x2="55.40" y2="530.30" stroke="#111" stroke-width="1.6"/>
<line x1="51.90" y1="430.60" x2="55.40" y2="430.60" stroke="#111" stroke-width="1.3"/>
<text x="49.30" y="433.66" font-size="8.5" text-anchor="end" font-weight="normal" fill="#1c1c1c">800</text>
<line x1="51.90" y1="455.60" x2="55.40" y2="455.60" stroke="#111" stroke-width="1.3"/>
<text x="49.30" y="458.66" font-size="8.5" text-anchor="end" font-weight="normal" fill="#1c1c1c">600</text>
<line x1="51.90" y1="480.50" x2="55.40" y2="480.50" stroke="#111" stroke-width="1.3"/>
<text x="49.30" y="483.56" font-size="8.5" text-anchor="end" font-weight="normal" fill="#1c1c1c">400</text>
<line x1="51.90" y1="505.40" x2="55.40" y2="505.40" stroke="#111" stroke-width="1.3"/>
<text x="49.30" y="508.46" font-size="8.5" text-anchor="end" font-weight="normal" fill="#1c1c1c">200</text>
<line x1="51.90" y1="530.30" x2="55.40" y2="530.30" stroke="#111" stroke-width="1.3"/>
<text x="49.30" y="533.36" font-size="8.5" text-anchor="end" font-weight="normal" fill="#1c1c1c">0</text>
<line x1="55.40" y1="530.30" x2="117.00" y2="530.30" stroke="#111" stroke-width="1.6"/>
<rect x="57.60" y="524.00" width="7.10" height="6.30" fill="#a3072f"/>
<line x1="61.15" y1="522.60" x2="61.15" y2="524.00" stroke="#111" stroke-width="1.0"/>
<line x1="59.65" y1="522.60" x2="62.65" y2="522.60" stroke="#111" stroke-width="1.0"/>
<rect x="64.70" y="521.40" width="7.10" height="8.90" fill="#000"/>
<line x1="68.25" y1="520.00" x2="68.25" y2="521.40" stroke="#111" stroke-width="1.0"/>
<line x1="66.75" y1="520.00" x2="69.75" y2="520.00" stroke="#111" stroke-width="1.0"/>
<text x="69.90" y="537.50" font-size="8.3" text-anchor="end" font-weight="normal" fill="#1c1c1c" transform="rotate(-45 69.90 537.50)">PBS</text>
<rect x="79.20" y="507.70" width="7.10" height="22.60" fill="#a3072f"/>
<line x1="82.75" y1="498.20" x2="82.75" y2="507.70" stroke="#111" stroke-width="1.0"/>
<line x1="81.25" y1="498.20" x2="84.25" y2="498.20" stroke="#111" stroke-width="1.0"/>
<rect x="86.30" y="471.00" width="7.10" height="59.30" fill="#000"/>
<line x1="89.85" y1="456.20" x2="89.85" y2="471.00" stroke="#111" stroke-width="1.0"/>
<line x1="88.35" y1="456.20" x2="91.35" y2="456.20" stroke="#111" stroke-width="1.0"/>
<circle cx="82.75" cy="492.70" r="1.25" fill="#111"/>
<circle cx="89.85" cy="450.70" r="1.25" fill="#111"/>
<text x="91.50" y="537.50" font-size="8.3" text-anchor="end" font-weight="normal" fill="#1c1c1c" transform="rotate(-45 91.50 537.50)">vehicle</text>
<rect x="100.50" y="507.70" width="7.10" height="22.60" fill="#a3072f"/>
<line x1="104.05" y1="500.30" x2="104.05" y2="507.70" stroke="#111" stroke-width="1.0"/>
<line x1="102.55" y1="500.30" x2="105.55" y2="500.30" stroke="#111" stroke-width="1.0"/>
<rect x="107.60" y="468.00" width="7.10" height="62.30" fill="#000"/>
<line x1="111.15" y1="451.00" x2="111.15" y2="468.00" stroke="#111" stroke-width="1.0"/>
<line x1="109.65" y1="451.00" x2="112.65" y2="451.00" stroke="#111" stroke-width="1.0"/>
<circle cx="104.05" cy="494.80" r="1.25" fill="#111"/>
<circle cx="111.15" cy="445.50" r="1.25" fill="#111"/>
<text x="112.80" y="537.50" font-size="8.3" text-anchor="end" font-weight="normal" fill="#1c1c1c" transform="rotate(-45 112.80 537.50)">AMD3100</text>
<line x1="69.80" y1="567.70" x2="120.40" y2="567.70" stroke="#111" stroke-width="1.2"/>
<text x="0" y="0" font-size="10.4" text-anchor="middle" fill="#1c1c1c" style="stroke-width:0.18px" transform="translate(96.15 580.40) scale(0.8 1)" textLength="83.87" lengthAdjust="spacing">LPS (100 ng/ml)</text>
<rect x="57.60" y="417.50" width="7.00" height="3.60" fill="#a3072f"/>
<rect x="57.60" y="428.70" width="7.00" height="3.60" fill="#000"/>
<text x="67.80" y="421.90" font-size="8.6" text-anchor="start" font-weight="normal" fill="#1c1c1c">non-aged neutrophils</text>
<text x="67.80" y="432.50" font-size="8.6" text-anchor="start" font-weight="normal" fill="#1c1c1c">aged neutrophils</text>
<line x1="199.60" y1="411.70" x2="199.60" y2="530.20" stroke="#111" stroke-width="1.6"/>
<line x1="196.10" y1="414.40" x2="199.60" y2="414.40" stroke="#111" stroke-width="1.3"/>
<text x="193.50" y="417.46" font-size="8.5" text-anchor="end" font-weight="normal" fill="#1c1c1c">500</text>
<line x1="196.10" y1="437.30" x2="199.60" y2="437.30" stroke="#111" stroke-width="1.3"/>
<text x="193.50" y="440.36" font-size="8.5" text-anchor="end" font-weight="normal" fill="#1c1c1c">400</text>
<line x1="196.10" y1="460.40" x2="199.60" y2="460.40" stroke="#111" stroke-width="1.3"/>
<text x="193.50" y="463.46" font-size="8.5" text-anchor="end" font-weight="normal" fill="#1c1c1c">300</text>
<line x1="196.10" y1="483.90" x2="199.60" y2="483.90" stroke="#111" stroke-width="1.3"/>
<text x="193.50" y="486.96" font-size="8.5" text-anchor="end" font-weight="normal" fill="#1c1c1c">200</text>
<line x1="196.10" y1="506.70" x2="199.60" y2="506.70" stroke="#111" stroke-width="1.3"/>
<text x="193.50" y="509.76" font-size="8.5" text-anchor="end" font-weight="normal" fill="#1c1c1c">100</text>
<line x1="196.10" y1="529.60" x2="199.60" y2="529.60" stroke="#111" stroke-width="1.3"/>
<text x="193.50" y="532.66" font-size="8.5" text-anchor="end" font-weight="normal" fill="#1c1c1c">0</text>
<line x1="199.60" y1="530.20" x2="265.00" y2="530.20" stroke="#111" stroke-width="1.6"/>
<rect x="202.80" y="517.50" width="7.50" height="12.70" fill="#a3072f"/>
<line x1="206.55" y1="515.80" x2="206.55" y2="517.50" stroke="#111" stroke-width="1.0"/>
<line x1="205.05" y1="515.80" x2="208.05" y2="515.80" stroke="#111" stroke-width="1.0"/>
<rect x="210.30" y="514.30" width="7.50" height="15.90" fill="#000"/>
<line x1="214.05" y1="512.00" x2="214.05" y2="514.30" stroke="#111" stroke-width="1.0"/>
<line x1="212.55" y1="512.00" x2="215.55" y2="512.00" stroke="#111" stroke-width="1.0"/>
<text x="215.50" y="537.40" font-size="8.3" text-anchor="end" font-weight="normal" fill="#1c1c1c" transform="rotate(-45 215.50 537.40)">PBS</text>
<rect x="225.20" y="485.50" width="7.50" height="44.70" fill="#a3072f"/>
<line x1="228.95" y1="479.80" x2="228.95" y2="485.50" stroke="#111" stroke-width="1.0"/>
<line x1="227.45" y1="479.80" x2="230.45" y2="479.80" stroke="#111" stroke-width="1.0"/>
<rect x="232.70" y="447.00" width="7.50" height="83.20" fill="#000"/>
<line x1="236.45" y1="436.70" x2="236.45" y2="447.00" stroke="#111" stroke-width="1.0"/>
<line x1="234.95" y1="436.70" x2="237.95" y2="436.70" stroke="#111" stroke-width="1.0"/>
<circle cx="228.95" cy="474.30" r="1.25" fill="#111"/>
<circle cx="236.45" cy="431.20" r="1.25" fill="#111"/>
<text x="237.90" y="537.40" font-size="8.3" text-anchor="end" font-weight="normal" fill="#1c1c1c" transform="rotate(-45 237.90 537.40)">vehicle</text>
<rect x="247.30" y="497.90" width="7.50" height="32.30" fill="#a3072f"/>
<line x1="251.05" y1="496.20" x2="251.05" y2="497.90" stroke="#111" stroke-width="1.0"/>
<line x1="249.55" y1="496.20" x2="252.55" y2="496.20" stroke="#111" stroke-width="1.0"/>
<rect x="254.80" y="478.50" width="7.50" height="51.70" fill="#000"/>
<line x1="258.55" y1="475.20" x2="258.55" y2="478.50" stroke="#111" stroke-width="1.0"/>
<line x1="257.05" y1="475.20" x2="260.05" y2="475.20" stroke="#111" stroke-width="1.0"/>
<circle cx="251.05" cy="490.70" r="1.25" fill="#111"/>
<circle cx="256.55" cy="469.20" r="1.25" fill="#111"/>
<text x="259.75" y="472.20" font-size="8.4" text-anchor="middle" font-weight="normal" fill="#111">§</text>
<text x="260.00" y="537.40" font-size="8.3" text-anchor="end" font-weight="normal" fill="#1c1c1c" transform="rotate(-45 260.00 537.40)">TAK-242</text>
<line x1="216.90" y1="565.60" x2="269.20" y2="565.60" stroke="#111" stroke-width="1.2"/>
<text x="0" y="0" font-size="10.4" text-anchor="middle" fill="#1c1c1c" style="stroke-width:0.18px" transform="translate(243.15 578.80) scale(0.8 1)" textLength="84.38" lengthAdjust="spacing">LPS (100 ng/ml)</text>
<line x1="328.80" y1="414.60" x2="328.80" y2="530.10" stroke="#111" stroke-width="1.6"/>
<line x1="325.30" y1="417.30" x2="328.80" y2="417.30" stroke="#111" stroke-width="1.3"/>
<text x="322.70" y="420.36" font-size="8.5" text-anchor="end" font-weight="normal" fill="#1c1c1c">300</text>
<line x1="325.30" y1="436.20" x2="328.80" y2="436.20" stroke="#111" stroke-width="1.3"/>
<text x="322.70" y="439.26" font-size="8.5" text-anchor="end" font-weight="normal" fill="#1c1c1c">250</text>
<line x1="325.30" y1="454.80" x2="328.80" y2="454.80" stroke="#111" stroke-width="1.3"/>
<text x="322.70" y="457.86" font-size="8.5" text-anchor="end" font-weight="normal" fill="#1c1c1c">200</text>
<line x1="325.30" y1="473.60" x2="328.80" y2="473.60" stroke="#111" stroke-width="1.3"/>
<text x="322.70" y="476.66" font-size="8.5" text-anchor="end" font-weight="normal" fill="#1c1c1c">150</text>
<line x1="325.30" y1="492.50" x2="328.80" y2="492.50" stroke="#111" stroke-width="1.3"/>
<text x="322.70" y="495.56" font-size="8.5" text-anchor="end" font-weight="normal" fill="#1c1c1c">100</text>
<line x1="325.30" y1="511.30" x2="328.80" y2="511.30" stroke="#111" stroke-width="1.3"/>
<text x="322.70" y="514.36" font-size="8.5" text-anchor="end" font-weight="normal" fill="#1c1c1c">50</text>
<line x1="325.30" y1="529.60" x2="328.80" y2="529.60" stroke="#111" stroke-width="1.3"/>
<text x="322.70" y="532.66" font-size="8.5" text-anchor="end" font-weight="normal" fill="#1c1c1c">0</text>
<line x1="328.80" y1="530.10" x2="428.50" y2="530.10" stroke="#111" stroke-width="1.6"/>
<rect x="332.90" y="510.20" width="6.70" height="19.90" fill="#a3072f"/>
<line x1="336.25" y1="507.80" x2="336.25" y2="510.20" stroke="#111" stroke-width="1.0"/>
<line x1="334.75" y1="507.80" x2="337.75" y2="507.80" stroke="#111" stroke-width="1.0"/>
<rect x="339.60" y="504.00" width="6.70" height="26.10" fill="#000"/>
<line x1="342.95" y1="501.40" x2="342.95" y2="504.00" stroke="#111" stroke-width="1.0"/>
<line x1="341.45" y1="501.40" x2="344.45" y2="501.40" stroke="#111" stroke-width="1.0"/>
<text x="344.80" y="537.30" font-size="8.3" text-anchor="end" font-weight="normal" fill="#1c1c1c" transform="rotate(-45 344.80 537.30)">PBS</text>
<rect x="352.30" y="491.90" width="6.70" height="38.20" fill="#a3072f"/>
<line x1="355.65" y1="489.80" x2="355.65" y2="491.90" stroke="#111" stroke-width="1.0"/>
<line x1="354.15" y1="489.80" x2="357.15" y2="489.80" stroke="#111" stroke-width="1.0"/>
<rect x="359.00" y="457.70" width="6.70" height="72.40" fill="#000"/>
<line x1="362.35" y1="452.90" x2="362.35" y2="457.70" stroke="#111" stroke-width="1.0"/>
<line x1="360.85" y1="452.90" x2="363.85" y2="452.90" stroke="#111" stroke-width="1.0"/>
<circle cx="355.65" cy="484.30" r="1.25" fill="#111"/>
<circle cx="362.35" cy="447.40" r="1.25" fill="#111"/>
<text x="364.20" y="537.30" font-size="8.3" text-anchor="end" font-weight="normal" fill="#1c1c1c" transform="rotate(-45 364.20 537.30)">vehicle</text>
<rect x="372.00" y="503.20" width="6.70" height="26.90" fill="#a3072f"/>
<line x1="375.35" y1="501.40" x2="375.35" y2="503.20" stroke="#111" stroke-width="1.0"/>
<line x1="373.85" y1="501.40" x2="376.85" y2="501.40" stroke="#111" stroke-width="1.0"/>
<rect x="378.70" y="487.00" width="6.70" height="43.10" fill="#000"/>
<line x1="382.05" y1="483.00" x2="382.05" y2="487.00" stroke="#111" stroke-width="1.0"/>
<line x1="380.55" y1="483.00" x2="383.55" y2="483.00" stroke="#111" stroke-width="1.0"/>
<circle cx="373.35" cy="495.40" r="1.25" fill="#111"/>
<text x="376.55" y="498.40" font-size="8.4" text-anchor="middle" font-weight="normal" fill="#111">§</text>
<circle cx="380.05" cy="477.00" r="1.25" fill="#111"/>
<text x="383.25" y="480.00" font-size="8.4" text-anchor="middle" font-weight="normal" fill="#111">§</text>
<text x="383.90" y="537.30" font-size="8.3" text-anchor="end" font-weight="normal" fill="#1c1c1c" transform="rotate(-45 383.90 537.30)">SB 203580</text>
<rect x="391.40" y="494.10" width="6.70" height="36.00" fill="#a3072f"/>
<line x1="394.75" y1="490.60" x2="394.75" y2="494.10" stroke="#111" stroke-width="1.0"/>
<line x1="393.25" y1="490.60" x2="396.25" y2="490.60" stroke="#111" stroke-width="1.0"/>
<rect x="398.10" y="458.30" width="6.70" height="71.80" fill="#000"/>
<line x1="401.45" y1="451.50" x2="401.45" y2="458.30" stroke="#111" stroke-width="1.0"/>
<line x1="399.95" y1="451.50" x2="402.95" y2="451.50" stroke="#111" stroke-width="1.0"/>
<circle cx="394.75" cy="485.10" r="1.25" fill="#111"/>
<circle cx="401.45" cy="446.00" r="1.25" fill="#111"/>
<text x="403.30" y="537.30" font-size="8.3" text-anchor="end" font-weight="normal" fill="#1c1c1c" transform="rotate(-45 403.30 537.30)">SP 600125</text>
<rect x="410.70" y="490.00" width="6.70" height="40.10" fill="#a3072f"/>
<line x1="414.05" y1="487.10" x2="414.05" y2="490.00" stroke="#111" stroke-width="1.0"/>
<line x1="412.55" y1="487.10" x2="415.55" y2="487.10" stroke="#111" stroke-width="1.0"/>
<rect x="417.40" y="455.60" width="6.70" height="74.50" fill="#000"/>
<line x1="420.75" y1="448.30" x2="420.75" y2="455.60" stroke="#111" stroke-width="1.0"/>
<line x1="419.25" y1="448.30" x2="422.25" y2="448.30" stroke="#111" stroke-width="1.0"/>
<circle cx="414.05" cy="481.60" r="1.25" fill="#111"/>
<circle cx="420.75" cy="442.80" r="1.25" fill="#111"/>
<text x="422.60" y="537.30" font-size="8.3" text-anchor="end" font-weight="normal" fill="#1c1c1c" transform="rotate(-45 422.60 537.30)">FR 180204</text>
<line x1="350.50" y1="571.80" x2="426.30" y2="571.80" stroke="#111" stroke-width="1.2"/>
<text x="0" y="0" font-size="10.4" text-anchor="middle" fill="#1c1c1c" style="stroke-width:0.18px" transform="translate(388.75 585.30) scale(0.8 1)" textLength="85.37" lengthAdjust="spacing">LPS (100 ng/ml)</text>
<text x="0" y="0" font-size="11" text-anchor="middle" fill="#1c1c1c" style="stroke-width:0.18px" transform="translate(29.20 83.00) rotate(-90) scale(0.8 1)" textLength="104.62" lengthAdjust="spacing">Surface expression -</text>
<text x="0" y="0" font-size="11" text-anchor="middle" fill="#1c1c1c" style="stroke-width:0.18px" transform="translate(41.20 82.70) rotate(-90) scale(0.8 1)" textLength="93.75" lengthAdjust="spacing">unstimulated [RFI]</text>
<text x="0" y="0" font-size="11" text-anchor="middle" fill="#1c1c1c" style="stroke-width:0.18px" transform="translate(282.20 82.35) rotate(-90) scale(0.8 1)" textLength="127.38" lengthAdjust="spacing">Surface expression - LPS</text>
<text x="0" y="0" font-size="11" text-anchor="middle" fill="#1c1c1c" style="stroke-width:0.18px" transform="translate(294.70 83.45) rotate(-90) scale(0.8 1)" textLength="91.88" lengthAdjust="spacing">(100 ng/ml) [RFI]</text>
<text x="0" y="0" font-size="11" text-anchor="middle" fill="#1c1c1c" style="stroke-width:0.18px" transform="translate(29.30 285.10) rotate(-90) scale(0.8 1)" textLength="124.00" lengthAdjust="spacing">CD11b expression [RFI]</text>
<text x="0" y="0" font-size="11" text-anchor="middle" fill="#1c1c1c" style="stroke-width:0.18px" transform="translate(180.90 283.50) rotate(-90) scale(0.8 1)" textLength="120.75" lengthAdjust="spacing">TLR-4 expression [RFI]</text>
<text x="0" y="0" font-size="11" text-anchor="middle" fill="#1c1c1c" style="stroke-width:0.18px" transform="translate(322.90 285.20) rotate(-90) scale(0.8 1)" textLength="106.25" lengthAdjust="spacing">TLR-4/MD2 complex</text>
<text x="0" y="0" font-size="11" text-anchor="middle" fill="#1c1c1c" style="stroke-width:0.18px" transform="translate(334.70 285.50) rotate(-90) scale(0.8 1)" textLength="85.50" lengthAdjust="spacing">expression [RFI]</text>
<text x="0" y="0" font-size="11" text-anchor="middle" fill="#1c1c1c" style="stroke-width:0.18px" transform="translate(29.00 472.60) rotate(-90) scale(0.8 1)" textLength="125.25" lengthAdjust="spacing">CD11b expression [RFI]</text>
<text x="0" y="0" font-size="11" text-anchor="middle" fill="#1c1c1c" style="stroke-width:0.18px" transform="translate(173.50 470.75) rotate(-90) scale(0.8 1)" textLength="122.38" lengthAdjust="spacing">CD11b expression [RFI]</text>
<text x="0" y="0" font-size="11" text-anchor="middle" fill="#1c1c1c" style="stroke-width:0.18px" transform="translate(301.80 472.20) rotate(-90) scale(0.8 1)" textLength="122.38" lengthAdjust="spacing">CD11b expression [RFI]</text>
</svg>
</body></html>
